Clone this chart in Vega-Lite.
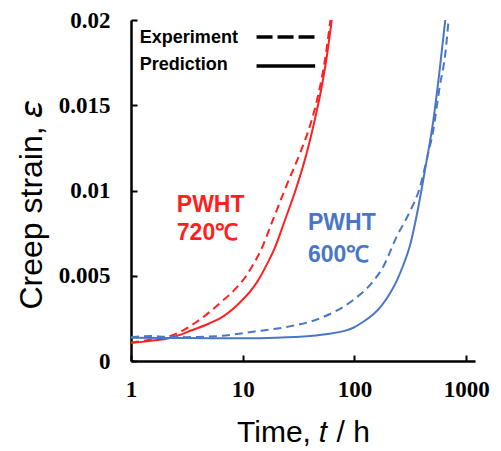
{
  "$schema": "https://vega.github.io/schema/vega-lite/v6.json",
  "width": 344,
  "height": 341,
  "autosize": "none",
  "padding": {"left": 131, "top": 20, "right": 26, "bottom": 90},
  "background": "white",
  "config": {"view": {"stroke": null}, "font": "Liberation Sans"},
  "datasets": {
    "curves": [
      {"series": "720", "kind": "Prediction", "t": 1, "eps": 0.00106},
      {"series": "720", "kind": "Prediction", "t": 1.5, "eps": 0.00118},
      {"series": "720", "kind": "Prediction", "t": 2.24, "eps": 0.00135},
      {"series": "720", "kind": "Prediction", "t": 3.5, "eps": 0.0018},
      {"series": "720", "kind": "Prediction", "t": 5, "eps": 0.0022},
      {"series": "720", "kind": "Prediction", "t": 6.26, "eps": 0.0025},
      {"series": "720", "kind": "Prediction", "t": 9, "eps": 0.0033},
      {"series": "720", "kind": "Prediction", "t": 12.4, "eps": 0.0043},
      {"series": "720", "kind": "Prediction", "t": 13.8, "eps": 0.00475},
      {"series": "720", "kind": "Prediction", "t": 16.85, "eps": 0.0058},
      {"series": "720", "kind": "Prediction", "t": 19, "eps": 0.0065},
      {"series": "720", "kind": "Prediction", "t": 23.9, "eps": 0.00827},
      {"series": "720", "kind": "Prediction", "t": 30, "eps": 0.0101},
      {"series": "720", "kind": "Prediction", "t": 37.4, "eps": 0.0122},
      {"series": "720", "kind": "Prediction", "t": 44, "eps": 0.0141},
      {"series": "720", "kind": "Prediction", "t": 51, "eps": 0.0161},
      {"series": "720", "kind": "Prediction", "t": 57, "eps": 0.018},
      {"series": "720", "kind": "Prediction", "t": 62.6, "eps": 0.02},
      {"series": "720", "kind": "Experiment", "t": 1, "eps": 0.00108},
      {"series": "720", "kind": "Experiment", "t": 1.5, "eps": 0.00125},
      {"series": "720", "kind": "Experiment", "t": 2.23, "eps": 0.00145},
      {"series": "720", "kind": "Experiment", "t": 3.88, "eps": 0.0023},
      {"series": "720", "kind": "Experiment", "t": 6.26, "eps": 0.0034},
      {"series": "720", "kind": "Experiment", "t": 8.5, "eps": 0.0042},
      {"series": "720", "kind": "Experiment", "t": 10.86, "eps": 0.00504},
      {"series": "720", "kind": "Experiment", "t": 12, "eps": 0.0055},
      {"series": "720", "kind": "Experiment", "t": 14.3, "eps": 0.0064},
      {"series": "720", "kind": "Experiment", "t": 18.7, "eps": 0.0083},
      {"series": "720", "kind": "Experiment", "t": 24, "eps": 0.0101},
      {"series": "720", "kind": "Experiment", "t": 32.6, "eps": 0.0122},
      {"series": "720", "kind": "Experiment", "t": 40, "eps": 0.0138},
      {"series": "720", "kind": "Experiment", "t": 47, "eps": 0.0155},
      {"series": "720", "kind": "Experiment", "t": 54, "eps": 0.0175},
      {"series": "720", "kind": "Experiment", "t": 61, "eps": 0.02},
      {"series": "600", "kind": "Prediction", "t": 1, "eps": 0.00136},
      {"series": "600", "kind": "Prediction", "t": 2, "eps": 0.00135},
      {"series": "600", "kind": "Prediction", "t": 5, "eps": 0.00134},
      {"series": "600", "kind": "Prediction", "t": 10, "eps": 0.00134},
      {"series": "600", "kind": "Prediction", "t": 20, "eps": 0.00137},
      {"series": "600", "kind": "Prediction", "t": 40, "eps": 0.00147},
      {"series": "600", "kind": "Prediction", "t": 60, "eps": 0.0016},
      {"series": "600", "kind": "Prediction", "t": 80, "eps": 0.00175},
      {"series": "600", "kind": "Prediction", "t": 97.6, "eps": 0.00195},
      {"series": "600", "kind": "Prediction", "t": 120, "eps": 0.0023},
      {"series": "600", "kind": "Prediction", "t": 145, "eps": 0.0027},
      {"series": "600", "kind": "Prediction", "t": 170, "eps": 0.00315},
      {"series": "600", "kind": "Prediction", "t": 205, "eps": 0.0039},
      {"series": "600", "kind": "Prediction", "t": 239, "eps": 0.0047},
      {"series": "600", "kind": "Prediction", "t": 273, "eps": 0.0056},
      {"series": "600", "kind": "Prediction", "t": 315, "eps": 0.0068},
      {"series": "600", "kind": "Prediction", "t": 370, "eps": 0.0089},
      {"series": "600", "kind": "Prediction", "t": 428, "eps": 0.0112},
      {"series": "600", "kind": "Prediction", "t": 508, "eps": 0.0141},
      {"series": "600", "kind": "Prediction", "t": 580, "eps": 0.0171},
      {"series": "600", "kind": "Prediction", "t": 650, "eps": 0.02},
      {"series": "600", "kind": "Experiment", "t": 1, "eps": 0.0014},
      {"series": "600", "kind": "Experiment", "t": 1.5, "eps": 0.00146},
      {"series": "600", "kind": "Experiment", "t": 2, "eps": 0.00142},
      {"series": "600", "kind": "Experiment", "t": 3.15, "eps": 0.0014},
      {"series": "600", "kind": "Experiment", "t": 6.26, "eps": 0.00147},
      {"series": "600", "kind": "Experiment", "t": 12.4, "eps": 0.00172},
      {"series": "600", "kind": "Experiment", "t": 24.8, "eps": 0.002},
      {"series": "600", "kind": "Experiment", "t": 49, "eps": 0.0025},
      {"series": "600", "kind": "Experiment", "t": 97.6, "eps": 0.00358},
      {"series": "600", "kind": "Experiment", "t": 138, "eps": 0.00446},
      {"series": "600", "kind": "Experiment", "t": 181, "eps": 0.00553},
      {"series": "600", "kind": "Experiment", "t": 239, "eps": 0.0073},
      {"series": "600", "kind": "Experiment", "t": 310, "eps": 0.0087},
      {"series": "600", "kind": "Experiment", "t": 386, "eps": 0.0102},
      {"series": "600", "kind": "Experiment", "t": 443, "eps": 0.0118},
      {"series": "600", "kind": "Experiment", "t": 508, "eps": 0.01355},
      {"series": "600", "kind": "Experiment", "t": 580, "eps": 0.0161},
      {"series": "600", "kind": "Experiment", "t": 650, "eps": 0.018},
      {"series": "600", "kind": "Experiment", "t": 696, "eps": 0.02}
    ],
    "legendLines": [
      {"item": "Experiment", "t": 13.3, "eps": 0.019},
      {"item": "Experiment", "t": 44.5, "eps": 0.019},
      {"item": "Prediction", "t": 13.3, "eps": 0.0173},
      {"item": "Prediction", "t": 44.5, "eps": 0.0173}
    ],
    "legendText": [
      {"label": "Experiment", "t": 1.2, "eps": 0.01894},
      {"label": "Prediction", "t": 1.2, "eps": 0.01736}
    ],
    "notes": [
      {"series": "720", "label": "PWHT", "t": 2.57, "eps": 0.00915},
      {"series": "720", "label": "720℃", "t": 2.57, "eps": 0.0075},
      {"series": "600", "label": "PWHT", "t": 38.4, "eps": 0.0081},
      {"series": "600", "label": "600℃", "t": 38.4, "eps": 0.0062}
    ]
  },
  "layer": [
    {
      "data": {"name": "curves"},
      "transform": [{"filter": "datum.series == '720' && datum.kind == 'Prediction'"}],
      "mark": {"type": "line", "color": "#ff1f1f", "strokeWidth": 2, "interpolate": "monotone"},
      "encoding": {
        "x": {
          "field": "t", "type": "quantitative",
          "scale": {"type": "log", "domain": [1, 1200], "nice": false},
          "axis": {
            "values": [1, 10, 100, 1000], "format": "~g", "grid": false,
            "labelFont": "Liberation Serif", "labelFontWeight": "bold", "labelFontSize": 23,
            "labelColor": "black", "labelFlush": false, "labelOverlap": false, "labelPadding": 23,
            "domainColor": "black", "domainWidth": 2.5, "tickColor": "black", "tickWidth": 2, "tickSize": -6,
            "title": "Time, 𝑡 / h", "titleFont": "Liberation Sans", "titleFontSize": 30,
            "titleFontWeight": "normal", "titleColor": "black", "titleY": 80, "titleBaseline": "alphabetic"
          }
        },
        "y": {
          "field": "eps", "type": "quantitative",
          "scale": {"domain": [0, 0.02], "nice": false, "zero": false},
          "axis": {
            "values": [0, 0.005, 0.01, 0.015, 0.02], "format": "~g", "grid": false,
            "labelFont": "Liberation Serif", "labelFontWeight": "bold", "labelFontSize": 23,
            "labelColor": "black", "labelFlush": false, "labelOverlap": false, "labelPadding": 27,
            "domainColor": "black", "domainWidth": 2.5, "tickColor": "black", "tickWidth": 2, "tickSize": -6,
            "title": "Creep strain, 𝜀", "titleFont": "Liberation Sans", "titleFontSize": 32,
            "titleFontWeight": "normal", "titleColor": "black", "titleX": -100, "titleY": 185,
            "titleAngle": -90, "titleAlign": "center", "titleBaseline": "middle"
          }
        }
      }
    },
    {
      "data": {"name": "curves"},
      "transform": [{"filter": "datum.series == '720' && datum.kind == 'Experiment'"}],
      "mark": {"type": "line", "color": "#ff1f1f", "strokeWidth": 2, "strokeDash": [8, 5], "interpolate": "monotone"},
      "encoding": {"x": {"field": "t", "type": "quantitative"}, "y": {"field": "eps", "type": "quantitative"}}
    },
    {
      "data": {"name": "curves"},
      "transform": [{"filter": "datum.series == '600' && datum.kind == 'Prediction'"}],
      "mark": {"type": "line", "color": "#4a76c8", "strokeWidth": 2, "interpolate": "monotone"},
      "encoding": {"x": {"field": "t", "type": "quantitative"}, "y": {"field": "eps", "type": "quantitative"}}
    },
    {
      "data": {"name": "curves"},
      "transform": [{"filter": "datum.series == '600' && datum.kind == 'Experiment'"}],
      "mark": {"type": "line", "color": "#4a76c8", "strokeWidth": 2, "strokeDash": [8, 5], "interpolate": "monotone"},
      "encoding": {"x": {"field": "t", "type": "quantitative"}, "y": {"field": "eps", "type": "quantitative"}}
    },
    {
      "data": {"name": "legendLines"},
      "transform": [{"filter": "datum.item == 'Experiment'"}],
      "mark": {"type": "line", "color": "black", "strokeWidth": 3.5, "strokeDash": [16, 5]},
      "encoding": {"x": {"field": "t", "type": "quantitative"}, "y": {"field": "eps", "type": "quantitative"}}
    },
    {
      "data": {"name": "legendLines"},
      "transform": [{"filter": "datum.item == 'Prediction'"}],
      "mark": {"type": "line", "color": "black", "strokeWidth": 3.5},
      "encoding": {"x": {"field": "t", "type": "quantitative"}, "y": {"field": "eps", "type": "quantitative"}}
    },
    {
      "data": {"name": "legendText"},
      "mark": {"type": "text", "align": "left", "baseline": "middle", "fontSize": 18, "fontWeight": "bold", "font": "Liberation Sans", "color": "black"},
      "encoding": {"x": {"field": "t", "type": "quantitative"}, "y": {"field": "eps", "type": "quantitative"}, "text": {"field": "label"}}
    },
    {
      "data": {"name": "notes"},
      "transform": [{"filter": "datum.series == '720'"}],
      "mark": {"type": "text", "align": "left", "baseline": "middle", "fontSize": 23, "fontWeight": "bold", "font": "Liberation Sans", "color": "#ff1f1f"},
      "encoding": {"x": {"field": "t", "type": "quantitative"}, "y": {"field": "eps", "type": "quantitative"}, "text": {"field": "label"}}
    },
    {
      "data": {"name": "notes"},
      "transform": [{"filter": "datum.series == '600'"}],
      "mark": {"type": "text", "align": "left", "baseline": "middle", "fontSize": 23, "fontWeight": "bold", "font": "Liberation Sans", "color": "#4a76c8"},
      "encoding": {"x": {"field": "t", "type": "quantitative"}, "y": {"field": "eps", "type": "quantitative"}, "text": {"field": "label"}}
    }
  ]
}
